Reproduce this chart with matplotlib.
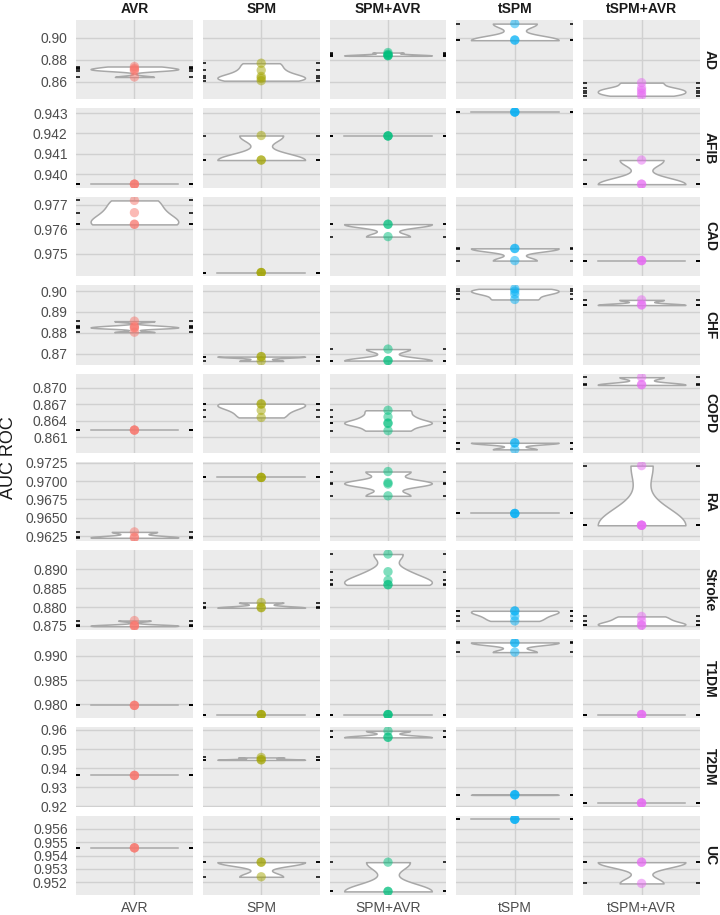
import numpy as np
import matplotlib.pyplot as plt
from matplotlib.ticker import FixedLocator, FormatStrFormatter

plt.rcParams['font.family'] = ['Liberation Sans', 'DejaVu Sans']

methods = ["AVR", "SPM", "SPM+AVR", "tSPM", "tSPM+AVR"]
diseases = ["AD", "AFIB", "CAD", "CHF", "COPD", "RA", "Stroke", "T1DM", "T2DM", "UC"]
colors = ["#F8766D", "#A3A500", "#00BF7D", "#00B0F6", "#E76BF3"]

# AUC ROC per method (AVR, SPM, SPM+AVR, tSPM, tSPM+AVR), one list per disease
ad = [[0.8738, 0.8722, 0.8712, 0.8700, 0.8642],
      [0.8768, 0.8704, 0.8647, 0.8630, 0.8608],
      [0.8866, 0.8850, 0.8842, 0.8838, 0.8836],
      [0.9131, 0.8982, 0.8979],
      [0.8590, 0.8542, 0.8518, 0.8494, 0.8470]]
afib = [[0.93952, 0.93952, 0.93952],
        [0.9419, 0.9407, 0.9407],
        [0.94188, 0.94188, 0.94188],
        [0.94305, 0.94305, 0.94305],
        [0.9407, 0.93952, 0.93952]]
cad = [[0.97718, 0.97668, 0.97621, 0.97620],
       [0.97423, 0.97423, 0.97423],
       [0.97621, 0.97620, 0.97570],
       [0.97522, 0.97521, 0.97472],
       [0.97472, 0.97472, 0.97472]]
chf = [[0.8856, 0.8833, 0.8826, 0.8823, 0.8803],
       [0.8686, 0.8686, 0.8665],
       [0.8722, 0.8667, 0.8667],
       [0.9011, 0.9000, 0.8985, 0.8960],
       [0.8958, 0.8935, 0.8933]]
copd = [[0.8623, 0.8623, 0.8623],
        [0.8671, 0.8670, 0.8659, 0.8646],
        [0.8659, 0.8647, 0.8636, 0.8635, 0.8622],
        [0.8600, 0.8600, 0.8588],
        [0.8719, 0.8706, 0.8705]]
ra = [[0.9631, 0.9624, 0.9623],
      [0.9705, 0.9705, 0.9705],
      [0.9713, 0.9698, 0.9696, 0.9680],
      [0.9656, 0.9656, 0.9656],
      [0.9721, 0.9640, 0.9640, 0.9640, 0.9640]]
stroke = [[0.8764, 0.8752, 0.8750, 0.8749],
          [0.8812, 0.8799, 0.8798],
          [0.8941, 0.8894, 0.8871, 0.8860, 0.8859],
          [0.8790, 0.8789, 0.8776, 0.8763],
          [0.8775, 0.8763, 0.8752, 0.8751]]
t1dm = [[0.9798, 0.9798, 0.9798],
        [0.9779, 0.9779, 0.9779],
        [0.9779, 0.9779, 0.9779],
        [0.9928, 0.9927, 0.9908],
        [0.9779, 0.9779, 0.9779]]
t2dm = [[0.9362, 0.9362, 0.9362],
        [0.9456, 0.9445, 0.9443],
        [0.9595, 0.9562, 0.9561],
        [0.9262, 0.9261, 0.9260],
        [0.9218, 0.9218, 0.9218]]
uc = [[0.95458, 0.95458, 0.95458],
      [0.9535, 0.9535, 0.9524],
      [0.9535, 0.9513, 0.9513],
      [0.95673, 0.95673, 0.95673],
      [0.9535, 0.9535, 0.9519]]

auc = [ad, afib, cad, chf, copd, ra, stroke, t1dm, t2dm, uc]

yticks = [[0.86, 0.88, 0.90],
          [0.940, 0.941, 0.942, 0.943],
          [0.975, 0.976, 0.977],
          [0.87, 0.88, 0.89, 0.90],
          [0.861, 0.864, 0.867, 0.870],
          [0.9625, 0.9650, 0.9675, 0.9700, 0.9725],
          [0.875, 0.880, 0.885, 0.890],
          [0.980, 0.985, 0.990],
          [0.92, 0.93, 0.94, 0.95, 0.96],
          [0.952, 0.953, 0.954, 0.955, 0.956]]
ydec = [2, 3, 3, 2, 3, 4, 3, 3, 2, 3]


def bw_nrd0(x):
    hi = np.std(x, ddof=1)
    q75, q25 = np.percentile(x, [75, 25])
    lo = min(hi, (q75 - q25) / 1.34)
    if lo == 0:
        lo = hi if hi > 0 else (abs(x[0]) if x[0] != 0 else 1.0)
    return 0.9 * lo * len(x) ** -0.2


def violin(ax, vals):
    x = np.asarray(vals, dtype=float)
    if np.ptp(x) == 0:
        ax.plot([0.55, 1.45], [x[0], x[0]], color='#A8A8A8', lw=1.1, zorder=2)
        return
    bw = bw_nrd0(x)
    yy = np.linspace(x.min(), x.max(), 512)
    d = np.exp(-0.5 * ((yy[:, None] - x[None, :]) / bw) ** 2).sum(axis=1)
    w = 0.45 * d / d.max()
    ax.fill_betweenx(yy, 1 - w, 1 + w, facecolor='white', edgecolor='#A8A8A8',
                     lw=1.1, zorder=2)


fig, axes = plt.subplots(10, 5, figsize=(7.2, 9.15), dpi=100, sharey='row')
fig.subplots_adjust(left=76 / 720, right=700 / 720, top=1 - 20 / 915,
                    bottom=1 - 895 / 915, wspace=0.085, hspace=0.114)

for i, dis in enumerate(diseases):
    allv = np.concatenate([np.asarray(v) for v in auc[i]])
    lo, hi = allv.min(), allv.max()
    pad = 0.05 * (hi - lo)
    for j, m in enumerate(methods):
        ax = axes[i, j]
        vals = auc[i][j]
        ax.set_facecolor('#EBEBEB')
        for s in ax.spines.values():
            s.set_visible(False)
        ax.set_xlim(0.4, 1.6)
        ax.set_ylim(lo - pad, hi + pad)
        ax.yaxis.set_major_locator(FixedLocator(yticks[i]))
        ax.yaxis.set_major_formatter(FormatStrFormatter('%%.%df' % ydec[i]))
        ax.set_xticks([1])
        ax.grid(True, color='#D0D0D0', lw=1.0)
        ax.set_axisbelow(True)
        ax.tick_params(length=0, labelsize=10, labelcolor='#4D4D4D', pad=6)
        if i == len(diseases) - 1:
            ax.set_xticklabels([m])
            ax.tick_params(axis='x', pad=4)
        else:
            ax.set_xticklabels([])
        if j > 0:
            ax.tick_params(axis='y', labelleft=False)

        violin(ax, vals)
        ax.scatter(np.ones(len(vals)), vals, s=45, color=colors[j], alpha=0.5,
                   edgecolors='none', zorder=3)
        tr = ax.get_yaxis_transform()
        for v in vals:
            ax.plot([0, 0.03], [v, v], transform=tr, color='black', lw=1.1,
                    zorder=4, solid_capstyle='butt')
            ax.plot([0.97, 1.0], [v, v], transform=tr, color='black', lw=1.1,
                    zorder=4, solid_capstyle='butt')

        if i == 0:
            ax.set_title(m, fontsize=10, fontweight='bold', color='#1A1A1A', pad=5)
        if j == len(methods) - 1:
            ax.text(1.025, 0.5, dis, transform=ax.transAxes, rotation=-90,
                    ha='left', va='center', fontsize=10, fontweight='bold',
                    color='#1A1A1A')

fig.text(0.012, 0.5, 'AUC ROC', rotation=90, ha='center', va='center',
         fontsize=13, color='#1A1A1A')

fig.savefig('out.png', dpi=100)
